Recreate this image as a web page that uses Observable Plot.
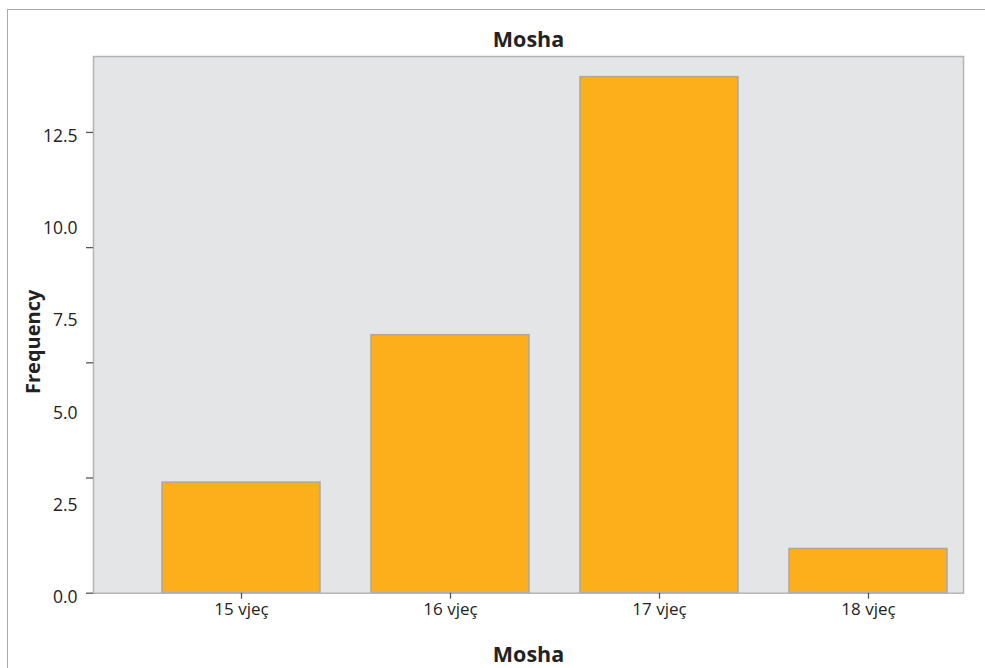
<!DOCTYPE html>
<html>
<head>
<meta charset="utf-8">
<script src="https://cdn.jsdelivr.net/npm/d3@7"></script>
<script src="https://cdn.jsdelivr.net/npm/@observablehq/plot@0.6"></script>
<style>
  html, body { margin: 0; padding: 0; background: #fff; }
  #wrap { position: relative; width: 985px; height: 668px; overflow: hidden; }
  #border { position: absolute; left: 7px; top: 9px; right: -20px; bottom: -20px;
            border-left: 1.5px solid #a9a9a9; border-top: 1.5px solid #a9a9a9; pointer-events: none; }
  svg { font-family: "Open Sans", sans-serif; }
</style>
</head>
<body>
<div id="wrap"><div id="border"></div></div>
<script>
// Data
const categories = ["15 vjeç", "16 vjeç", "17 vjeç", "18 vjeç"];
const frequencies = [3, 7, 14, 1.2];
const yTickLabels = [0, 2.5, 5, 7.5, 10, 12.5];
const yTickMarks = [0, 3.125, 6.25, 9.375, 12.5];
const chartTitle = "Mosha";
const xTitle = "Mosha";
const yTitle = "Frequency";

const data = categories.map((c, i) => ({age: c, count: frequencies[i]}));

const chart = Plot.plot({
  width: 985,
  height: 668,
  marginTop: 56,
  marginBottom: 75.3,
  marginLeft: 93,
  marginRight: 22,
  style: {fontFamily: "'Open Sans', sans-serif", fontSize: "16px", color: "#222", background: "transparent"},
  x: {type: "band", domain: categories, range: [109, 1000], paddingInner: 0.246, paddingOuter: 0.246, label: null},
  y: {domain: [0, 14.56], label: null},
  marks: [
    Plot.frame({fill: "#e4e5e7", stroke: null}),
    Plot.barY(data, {x: "age", y: "count", fill: "#fcaf1a", stroke: "#a8a8a8", strokeWidth: 1.5}),
    Plot.frame({stroke: "#b4b4b4", strokeWidth: 1.5, fill: null}),
    Plot.axisY({ticks: yTickLabels, tickSize: 0, tickPadding: 16, dy: 4, tickFormat: d3.format(".1f"), fontSize: 17.5, fill: "#222", label: null}),
    Plot.axisY({ticks: yTickMarks, tickSize: 7, tickFormat: () => "", stroke: "#555", strokeWidth: 1.3, label: null}),
    Plot.axisX({tickSize: 6, tickPadding: 4, stroke: "#555", strokeWidth: 1.3, fontSize: 17, fill: "#222", label: null}),
    Plot.text([chartTitle], {frameAnchor: "top", lineAnchor: "middle", dy: -16, fontSize: 21.5, fontWeight: "bold", fill: "#222"}),
    Plot.text([xTitle], {frameAnchor: "bottom", lineAnchor: "middle", dy: 62, fontSize: 21.5, fontWeight: "bold", fill: "#222"}),
    Plot.text([yTitle], {frameAnchor: "left", textAnchor: "middle", lineAnchor: "middle", dx: -60, dy: 17, rotate: -90, fontSize: 20, fontWeight: "bold", fill: "#222"})
  ]
});
document.getElementById("wrap").prepend(chart);
</script>
</body>
</html>
